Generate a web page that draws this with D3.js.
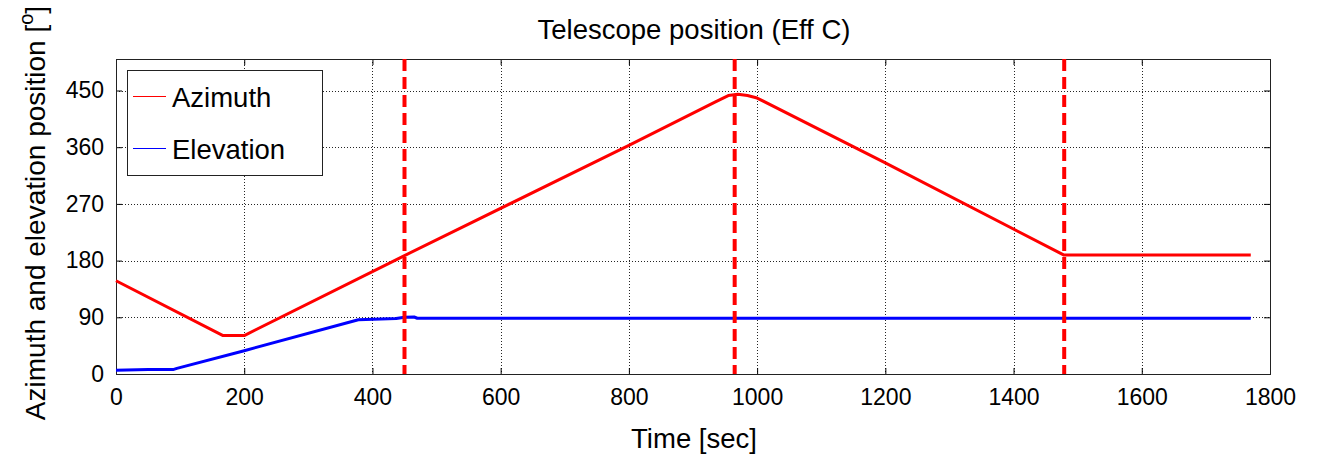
<!DOCTYPE html>
<html>
<head>
<meta charset="utf-8">
<script src="https://cdn.jsdelivr.net/npm/d3@7"></script>
<style>
  html, body { margin: 0; padding: 0; background: #fff; }
  svg { display: block; font-family: "Liberation Sans", Arial, Helvetica, sans-serif; }
</style>
</head>
<body>
<svg id="chart" width="1317" height="456"></svg>
<script>
// Telescope azimuth / elevation over time (breakpoints, seconds -> degrees)
const azTime = [0, 167, 200, 450, 800, 935, 955, 970, 985, 1000, 1200, 1478, 1482, 1770];
const azDeg  = [148, 61, 61, 188, 363, 432, 442, 444, 442, 438, 335, 189, 189, 189];

const elTime = [0, 50, 89, 95, 200, 378, 437, 450, 465, 470, 1770];
const elDeg  = [6, 7, 7, 9, 37, 86, 88, 90, 90.5, 88.5, 88.5];

// Phase boundaries (seconds)
const markers = [450, 965, 1479];

const xTicks = [0, 200, 400, 600, 800, 1000, 1200, 1400, 1600, 1800];
const yTicks = [0, 90, 180, 270, 360, 450];

const seriesNames = ["Azimuth", "Elevation"];
const seriesColors = ["#ff0000", "#0000ff"];

const svg = d3.select("#chart");
const plot = { left: 116, right: 1270, top: 59, bottom: 374 };

const x = d3.scaleLinear().domain([0, 1800]).range([plot.left, plot.right]);
const y = d3.scaleLinear().domain([0, 500]).range([plot.bottom, plot.top]);

// dotted grid
const grid = svg.append("g").attr("stroke", "#000").attr("stroke-width", 1)
  .attr("stroke-dasharray", "1,2").attr("opacity", 0.85);
xTicks.filter(t => t > 0 && t < 1800).forEach(t => {
  grid.append("line").attr("x1", Math.round(x(t)) + 0.5).attr("x2", Math.round(x(t)) + 0.5)
    .attr("y1", plot.top).attr("y2", plot.bottom);
});
yTicks.filter(t => t > 0).forEach(t => {
  grid.append("line").attr("y1", Math.round(y(t)) + 0.5).attr("y2", Math.round(y(t)) + 0.5)
    .attr("x1", plot.left).attr("x2", plot.right);
});

// axes with inward ticks, labels outside
const xAxis = d3.axisBottom(x).tickValues(xTicks).tickSize(-6).tickPadding(15).tickFormat(d3.format("d"));
const yAxis = d3.axisLeft(y).tickValues(yTicks).tickSize(-6).tickPadding(12).tickFormat(d3.format("d"));
const xTop = d3.axisTop(x).tickValues(xTicks).tickSize(-6).tickFormat("");
const yRight = d3.axisRight(y).tickValues(yTicks).tickSize(-6).tickFormat("");

function styleAxis(g) {
  g.select(".domain").remove();
  g.selectAll(".tick line").attr("stroke", "#000");
  g.selectAll(".tick text").attr("fill", "#000").attr("font-size", 23);
}
svg.append("g").attr("transform", `translate(0,${plot.bottom})`).call(xAxis).call(styleAxis)
  .selectAll(".tick text").attr("dy", "0.71em");
svg.append("g").attr("transform", `translate(${plot.left},0)`).call(yAxis).call(styleAxis);
svg.append("g").attr("transform", `translate(0,${plot.top})`).call(xTop).call(styleAxis);
svg.append("g").attr("transform", `translate(${plot.right},0)`).call(yRight).call(styleAxis);

// plot frame
svg.append("rect").attr("x", plot.left + 0.5).attr("y", plot.top + 0.5)
  .attr("width", plot.right - plot.left).attr("height", plot.bottom - plot.top)
  .attr("fill", "none").attr("stroke", "#222").attr("stroke-width", 1);

// data lines
const line = d3.line().x(d => x(d[0])).y(d => y(d[1]));
const azData = azTime.map((t, i) => [t, azDeg[i]]);
const elData = elTime.map((t, i) => [t, elDeg[i]]);

svg.append("path").datum(elData).attr("d", line).attr("fill", "none")
  .attr("stroke", seriesColors[1]).attr("stroke-width", 3).attr("stroke-linejoin", "round");
svg.append("path").datum(azData).attr("d", line).attr("fill", "none")
  .attr("stroke", seriesColors[0]).attr("stroke-width", 3).attr("stroke-linejoin", "round");

// phase boundary markers
svg.append("g").selectAll("line").data(markers).join("line")
  .attr("x1", d => x(d)).attr("x2", d => x(d))
  .attr("y1", plot.top).attr("y2", plot.bottom)
  .attr("stroke", "#ff0000").attr("stroke-width", 4).attr("stroke-dasharray", "12,6");

// legend
const legend = svg.append("g");
legend.append("rect").attr("x", 127.5).attr("y", 70.5).attr("width", 195).attr("height", 105)
  .attr("fill", "#fff").attr("stroke", "#222").attr("stroke-width", 1);
const legendY = [96, 148];
seriesNames.forEach((name, i) => {
  legend.append("line").attr("x1", 133).attr("x2", 166)
    .attr("y1", legendY[i] + 0.5).attr("y2", legendY[i] + 0.5)
    .attr("stroke", seriesColors[i]).attr("stroke-width", 1.2);
  legend.append("text").attr("x", 172).attr("y", legendY[i] + 10.5)
    .attr("font-size", 27.5).attr("fill", "#000").text(name);
});

// title and axis labels
svg.append("text").attr("x", 694).attr("y", 39)
  .attr("text-anchor", "middle").attr("font-size", 27.5).attr("fill", "#000")
  .text("Telescope position (Eff C)");

svg.append("text").attr("x", 694).attr("y", 448)
  .attr("text-anchor", "middle").attr("font-size", 27.5).attr("fill", "#000")
  .text("Time [sec]");

const yl = svg.append("text").attr("transform", "translate(45,213) rotate(-90)")
  .attr("text-anchor", "middle").attr("font-size", 28).attr("fill", "#000");
yl.append("tspan").text("Azimuth and elevation position [");
yl.append("tspan").attr("font-size", 20).attr("dy", -12).text("o");
yl.append("tspan").attr("dy", 12).text("]");
</script>
</body>
</html>
